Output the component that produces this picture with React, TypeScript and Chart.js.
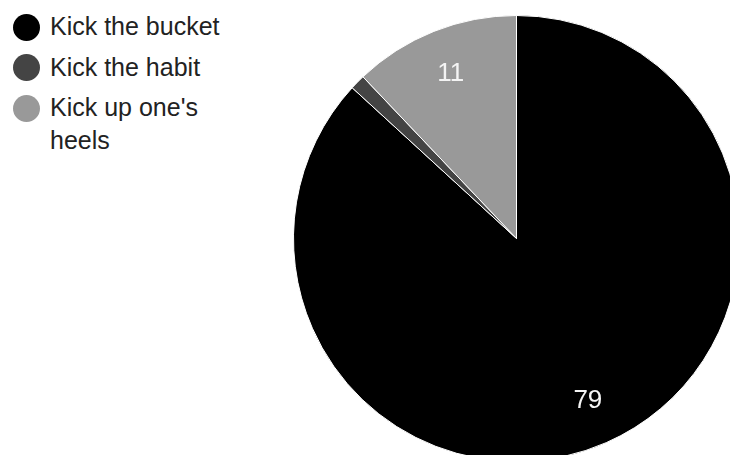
import React, { useEffect, useRef } from "react";
import { Chart, registerables } from "chart.js";

Chart.register(...registerables);

const labels = ["Kick the bucket", "Kick the habit", "Kick up one's heels"];
const values = [79, 1, 11];
const colors = ["#000000", "#444444", "#999999"];

const sliceLabelPlugin = {
  id: "sliceLabels",
  afterDatasetsDraw(chart: any) {
    const ctx = chart.ctx;
    const meta = chart.getDatasetMeta(0);
    const data = chart.data.datasets[0].data as number[];
    const total = data.reduce((a, b) => a + b, 0);
    ctx.save();
    ctx.fillStyle = "#f4f4f4";
    ctx.font = "26px 'Liberation Sans', Arial, sans-serif";
    ctx.textAlign = "center";
    ctx.textBaseline = "middle";
    meta.data.forEach((arc: any, i: number) => {
      if (data[i] / total < 0.05) return;
      const mid = (arc.startAngle + arc.endAngle) / 2;
      const r = arc.outerRadius * 0.795;
      const x = arc.x + Math.cos(mid) * r;
      const y = arc.y + Math.sin(mid) * r;
      ctx.fillText(String(data[i]), x, y);
    });
    ctx.restore();
  },
};

export default function App() {
  const ref = useRef<HTMLCanvasElement | null>(null);
  useEffect(() => {
    if (!ref.current) return;
    const chart = new Chart(ref.current, {
      type: "pie",
      data: {
        labels,
        datasets: [
          {
            data: values,
            backgroundColor: colors,
            borderColor: "#ffffff",
            borderWidth: 1,
          },
        ],
      },
      options: {
        responsive: false,
        animation: false,
        maintainAspectRatio: false,
        layout: { padding: 0 },
        plugins: {
          legend: { display: false },
          tooltip: { enabled: false },
        },
      },
      plugins: [sliceLabelPlugin],
    });
    return () => chart.destroy();
  }, []);

  return (
    <div
      style={{
        position: "fixed",
        left: 0,
        top: 0,
        width: 730,
        height: 455,
        overflow: "hidden",
        background: "#ffffff",
        fontFamily: "'Liberation Sans', Arial, sans-serif",
      }}
    >
      <canvas
        ref={ref}
        width={447}
        height={447}
        style={{ position: "absolute", left: 293, top: 15, width: 447, height: 447 }}
      />
      {labels.map((l, i) => (
        <div key={l}>
          <div
            style={{
              position: "absolute",
              left: 13,
              top: 13.5 + i * 40.5,
              width: 27,
              height: 27,
              borderRadius: "50%",
              background: colors[i],
            }}
          />
          <div
            style={{
              position: "absolute",
              left: 50,
              top: 10 + i * 40.5,
              width: 180,
              fontSize: 25,
              lineHeight: "33px",
              color: "#222222",
            }}
          >
            {l}
          </div>
        </div>
      ))}
    </div>
  );
}
